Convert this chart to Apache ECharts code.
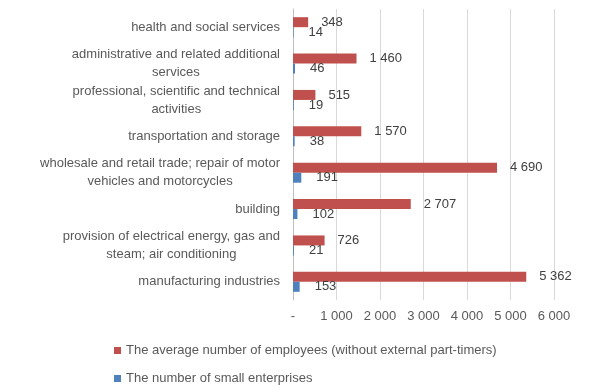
<!DOCTYPE html>
<html>
<head>
<meta charset="utf-8">
<script src="https://cdn.jsdelivr.net/npm/echarts@6/dist/echarts.min.js"></script>
<style>html,body{margin:0;padding:0;background:#fff}#c{width:608px;height:392px}</style>
</head>
<body>
<div id="c"></div>
<script>
var categories = [
  'manufacturing industries',
  'provision of electrical energy, gas and steam; air conditioning',
  'building',
  'wholesale and retail trade; repair of motor vehicles and motorcycles',
  'transportation and storage',
  'professional, scientific and technical activities',
  'administrative and related additional services',
  'health and social services'
];
var employees = [5362, 726, 2707, 4690, 1570, 515, 1460, 348];
var enterprises = [153, 21, 102, 191, 38, 19, 46, 14];
var seriesNames = ['The average number of employees (without external part-timers)', 'The number of small enterprises'];
var xTicks = [0, 1000, 2000, 3000, 4000, 5000, 6000];

var FONT = 'Liberation Sans';
var FS = 13;
function fmt(v) {
  if (v === 0) return '-';
  return String(v).replace(/\B(?=(\d{3})+(?!\d))/g, ' ');
}
function wrap(s, max) {
  var words = s.split(' '), lines = [], cur = '';
  words.forEach(function (w) {
    if (cur && (cur + ' ' + w).length > max) { lines.push(cur); cur = w; }
    else cur = cur ? cur + ' ' + w : w;
  });
  if (cur) lines.push(cur);
  return lines;
}
var chart = echarts.init(document.getElementById('c'), null, {renderer: 'canvas'});
chart.setOption({
  animation: false,
  textStyle: {fontFamily: FONT},
  grid: {left: 293, right: 54, top: 9, bottom: 92, containLabel: false},
  legend: {
    orient: 'vertical', left: 114, top: 344, padding: 0, itemWidth: 7, itemHeight: 7, itemGap: 15,
    icon: 'rect',
    data: seriesNames,
    textStyle: {fontSize: FS, color: '#595959', fontFamily: FONT}
  },
  xAxis: {
    type: 'value', min: xTicks[0], max: xTicks[xTicks.length - 1], interval: 1000,
    axisLine: {show: false}, axisTick: {show: false},
    splitLine: {lineStyle: {color: '#d9d9d9', width: 1}},
    axisLabel: {formatter: fmt, fontSize: FS, color: '#595959', margin: 10, fontFamily: FONT}
  },
  yAxis: {
    type: 'category', data: categories,
    axisLine: {show: true, lineStyle: {color: '#bfbfbf'}},
    axisTick: {show: false},
    axisLabel: {
      margin: 13, fontSize: FS, color: '#595959', fontFamily: FONT,
      formatter: function (v) {
        return wrap(v, 43).map(function (l) { return '{c|' + l + '}'; }).join('\n');
      },
      rich: {c: {align: 'center', fontSize: FS, color: '#595959', lineHeight: 18, fontFamily: FONT}}
    }
  },
  series: [
    {
      name: seriesNames[0], type: 'bar', data: employees, barWidth: 10, barGap: '0%',
      itemStyle: {color: '#C0504D'},
      label: {show: true, position: 'right', distance: 13, formatter: function (p) { return fmt(p.value); },
        fontSize: FS, color: '#404040', fontFamily: FONT}
    },
    {
      name: seriesNames[1], type: 'bar', data: enterprises, barWidth: 10, barGap: '0%',
      itemStyle: {color: '#4F81BD'},
      label: {show: true, position: 'right', distance: 15, formatter: function (p) { return fmt(p.value); },
        fontSize: FS, color: '#404040', fontFamily: FONT}
    }
  ]
});
</script>
</body>
</html>
